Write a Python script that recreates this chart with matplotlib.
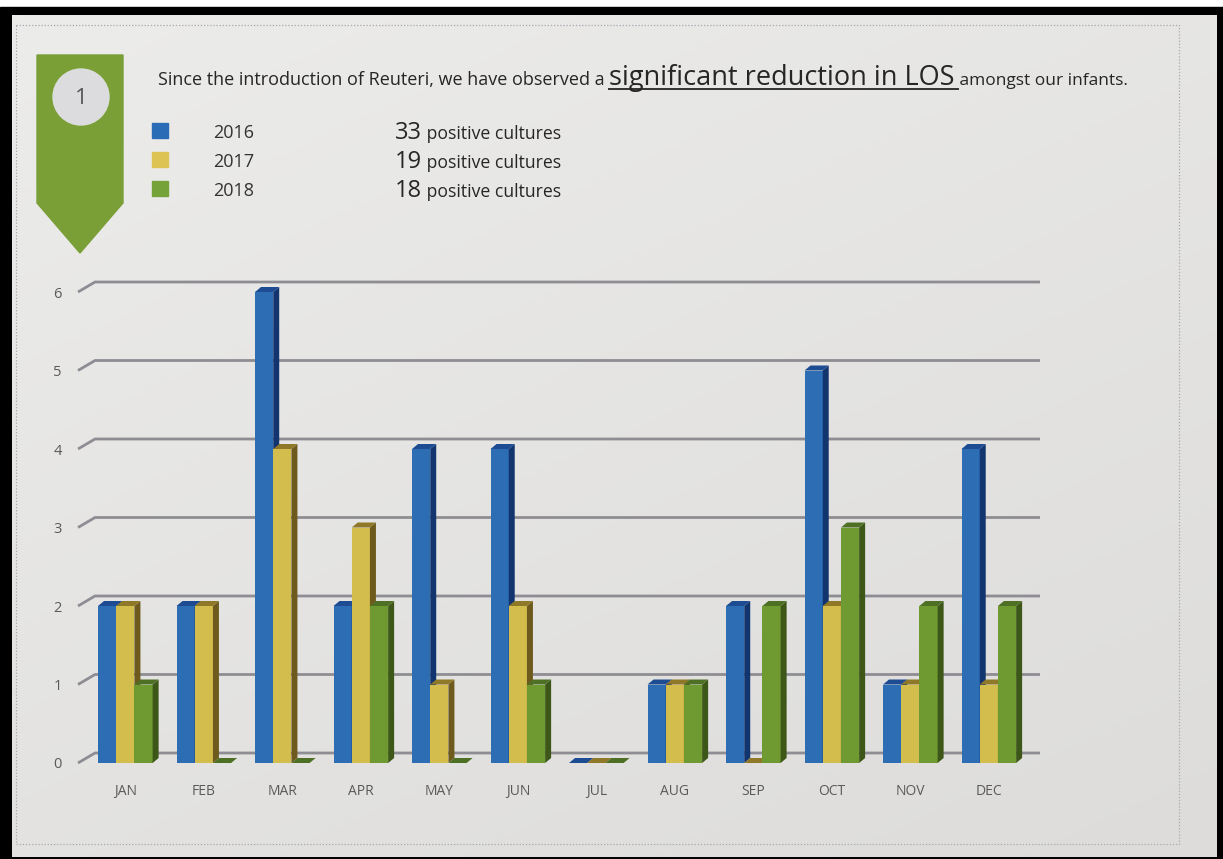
import matplotlib
matplotlib.use("Agg")
import numpy as np
import matplotlib.pyplot as plt
from matplotlib.patches import Polygon, Rectangle, Circle
from matplotlib.colors import LinearSegmentedColormap

# ---- data
months = ["JAN", "FEB", "MAR", "APR", "MAY", "JUN", "JUL", "AUG", "SEP", "OCT", "NOV", "DEC"]
years = ["2016", "2017", "2018"]
cases_2016 = [2, 2, 6, 2, 4, 4, 0, 1, 2, 5, 1, 4]
cases_2017 = [2, 2, 4, 3, 1, 2, 0, 1, 0, 2, 1, 1]
cases_2018 = [1, 0, 0, 2, 0, 1, 0, 1, 2, 3, 2, 2]
totals = ["33", "19", "18"]
y_ticks = [0, 1, 2, 3, 4, 5, 6]

front_col = ["#2c6db4", "#d3bd4c", "#6f9a32"]
side_col = ["#12356f", "#6d5a1c", "#3c5718"]
top_col = ["#1d4c92", "#8f7828", "#4e7024"]
legend_col = ["#2a6cb6", "#dcc352", "#76a23a"]

W, H = 1223, 859
fig = plt.figure(figsize=(W / 100, H / 100), dpi=100)
fig.patch.set_facecolor("white")

# background layer in pixel coordinates (photo frame, card, banner)
bg = fig.add_axes([0, 0, 1, 1])
bg.set_xlim(0, W)
bg.set_ylim(H, 0)
bg.axis("off")
bg.add_patch(Rectangle((0, 7), W, H - 7, color="black", zorder=0))
grad = np.linspace(0, 1, 200)
shade = np.add.outer(grad * 0.6, grad * 0.4)
paper = LinearSegmentedColormap.from_list("paper", ["#ececeb", "#dddcda"])
bg.imshow(shade, extent=[12, 1217, 857, 15], cmap=paper, aspect="auto", zorder=1)
bg.add_patch(Rectangle((16, 25), 1163, 819, fill=False, ec="#a8a8ae", lw=0.9,
                       ls=(0, (1, 1.5)), zorder=2))
bg.add_patch(Polygon([(37, 55), (123, 55), (123, 203), (80, 253), (37, 203)],
                     closed=True, color="#7a9f37", zorder=2))
bg.add_patch(Circle((81, 97), 28, color="#dcdcde", zorder=3))
bg.text(81, 98, "1", ha="center", va="center", fontsize=16, color="#555555",
        family="Open Sans", zorder=4)
bg.set_xlim(0, W)
bg.set_ylim(H, 0)

fig.canvas.draw()
r = fig.canvas.get_renderer()


def chain(x, y, parts):
    # put text pieces one after another on a common baseline
    boxes = []
    for txt, size, col in parts:
        t = fig.text(x / W, 1 - y / H, txt, fontsize=size, color=col, family="Open Sans",
                     va="baseline", ha="left", zorder=5)
        bb = t.get_window_extent(r)
        boxes.append(bb)
        x = bb.x1
    return boxes


title_boxes = chain(158, 85, [("Since the introduction of Reuteri, we have observed a ", 13, "#262626"),
                              ("significant reduction in LOS", 19.5, "#262626"),
                              (" amongst our infants.", 12.5, "#262626")])
ub = title_boxes[1]
bg.plot([ub.x0, ub.x1 + 3], [89, 89], color="#333333", lw=1.4, zorder=5)

rows_y = [131, 160, 189]
for k in range(3):
    bg.add_patch(Rectangle((152, rows_y[k] - 8), 16, 15, color=legend_col[k], zorder=5))
    fig.text(213 / W, 1 - (rows_y[k] + 7) / H, years[k], fontsize=13, color="#333333",
             family="Open Sans", va="baseline", zorder=5)
    chain(395, rows_y[k] + 8, [(totals[k], 17, "#262626"), (" positive cultures", 12.7, "#262626")])

# ---- chart, 78.5 px per month and per unit
ppu = 78.5
x0_px, y0_px = 125.5, 763.0
xmin, xmax = (70 - x0_px) / ppu, (1062 - x0_px) / ppu
ymin, ymax = -0.2, (y0_px - 255) / ppu
left = x0_px + xmin * ppu
right = x0_px + xmax * ppu
bottom = y0_px - ymin * ppu
top = y0_px - ymax * ppu
ax = fig.add_axes([left / W, 1 - bottom / H, (right - left) / W, (bottom - top) / H])
ax.set_xlim(xmin, xmax)
ax.set_ylim(ymin, ymax)
ax.patch.set_alpha(0)
for s in ax.spines.values():
    s.set_visible(False)

# back-wall gridlines with a slanted stub at the left
gdx, gdy = 17 / ppu, 10 / ppu
gx0 = (78 - x0_px) / ppu
gx1 = (1040 - x0_px) / ppu
for v in y_ticks:
    ax.plot([gx0, gx0 + gdx, gx1], [v, v + gdy, v + gdy], color="#8e8d93", lw=2.0,
            solid_capstyle="butt", zorder=1)

bw = 18.2 / ppu
dx, dy = 6 / ppu, 5 / ppu
x = np.arange(len(months))
series = [cases_2016, cases_2017, cases_2018]
z = 2
for k, vals in enumerate(series):
    lefts = x - 0.35 + k * bw
    ax.bar(lefts, vals, width=bw, align="edge", color=front_col[k], zorder=z + k * 3)
    for xl, v in zip(lefts, vals):
        xr = xl + bw
        ax.add_patch(Polygon([(xr, 0), (xr + dx, dy), (xr + dx, v + dy), (xr, v)],
                             closed=True, color=side_col[k], lw=0, zorder=z + k * 3 + 1))
        ax.add_patch(Polygon([(xl, v), (xl + dx, v + dy), (xr + dx, v + dy), (xr, v)],
                             closed=True, color=top_col[k], lw=0, zorder=z + k * 3 + 2))

ax.set_yticks(y_ticks)
ax.set_yticklabels([str(v) for v in y_ticks], fontsize=10.5, color="#5a5a5a", family="Open Sans")
ax.set_xticks(x)
ax.set_xticklabels(months, fontsize=10, color="#5a5a5a", family="Open Sans")
ax.tick_params(axis="y", length=0, pad=6)
ax.tick_params(axis="x", length=0, pad=4)

fig.savefig("out.png", dpi=100)
